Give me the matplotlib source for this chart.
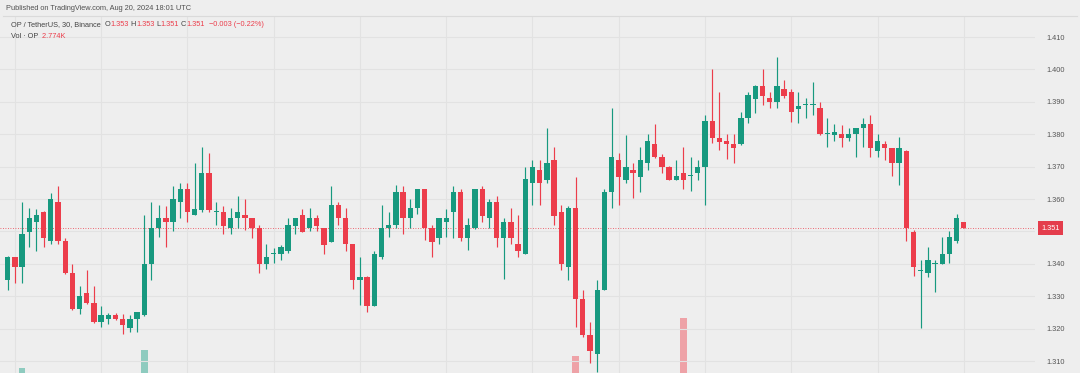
#!/usr/bin/env python3
# OP / TetherUS 30-minute candles (Binance), TradingView-style snapshot
import numpy as np
import matplotlib
matplotlib.use("Agg")
import matplotlib.pyplot as plt
import matplotlib.transforms as mtransforms

plt.rcParams['font.family'] = ['Liberation Sans', 'DejaVu Sans']

# OHLC values, one candle per 30 minutes
opens = [1.3350, 1.3420, 1.3389, 1.3499, 1.3530, 1.3561, 1.3470, 1.3590, 1.3470, 1.3371,
         1.3260, 1.3311, 1.3280, 1.3219, 1.3230, 1.3242, 1.3230, 1.3201, 1.3230, 1.3242,
         1.3398, 1.3510, 1.3540, 1.3528, 1.3590, 1.3630, 1.3551, 1.3566, 1.3679, 1.3559,
         1.3559, 1.3510, 1.3540, 1.3551, 1.3540, 1.3510, 1.3399, 1.3430, 1.3430, 1.3440,
         1.3518, 1.3551, 1.3510, 1.3540, 1.3510, 1.3468, 1.3581, 1.3540, 1.3461, 1.3350,
         1.3360, 1.3270, 1.3420, 1.3510, 1.3520, 1.3621, 1.3540, 1.3571, 1.3631, 1.3510,
         1.3479, 1.3530, 1.3559, 1.3621, 1.3479, 1.3510, 1.3631, 1.3540, 1.3590, 1.3479,
         1.3530, 1.3461, 1.3430, 1.3648, 1.3690, 1.3659, 1.3720, 1.3560, 1.3389, 1.3571,
         1.3291, 1.3180, 1.3122, 1.3319, 1.3621, 1.3720, 1.3659, 1.3690, 1.3669, 1.3710,
         1.3769, 1.3729, 1.3700, 1.3659, 1.3679, 1.3671, 1.3679, 1.3700, 1.3841, 1.3789,
         1.3779, 1.3769, 1.3769, 1.3849, 1.3910, 1.3950, 1.3911, 1.3898, 1.3940, 1.3929,
         1.3878, 1.3890, 1.3890, 1.3880, 1.3800, 1.3798, 1.3800, 1.3789, 1.3800, 1.3818,
         1.3831, 1.3749, 1.3769, 1.3758, 1.3710, 1.3749, 1.3499, 1.3379, 1.3371, 1.3399,
         1.3399, 1.3430, 1.3470, 1.3530]
highs = [1.3425, 1.3422, 1.3590, 1.3571, 1.3568, 1.3563, 1.3619, 1.3640, 1.3479, 1.3399,
         1.3331, 1.3381, 1.3331, 1.3270, 1.3247, 1.3247, 1.3244, 1.3242, 1.3251, 1.3551,
         1.3590, 1.3581, 1.3579, 1.3640, 1.3648, 1.3648, 1.3711, 1.3760, 1.3741, 1.3592,
         1.3578, 1.3571, 1.3609, 1.3600, 1.3541, 1.3520, 1.3461, 1.3448, 1.3458, 1.3540,
         1.3541, 1.3568, 1.3571, 1.3551, 1.3511, 1.3640, 1.3592, 1.3571, 1.3462, 1.3422,
         1.3361, 1.3440, 1.3581, 1.3561, 1.3643, 1.3641, 1.3600, 1.3632, 1.3632, 1.3520,
         1.3541, 1.3568, 1.3641, 1.3631, 1.3540, 1.3632, 1.3641, 1.3600, 1.3609, 1.3540,
         1.3571, 1.3551, 1.3700, 1.3720, 1.3720, 1.3818, 1.3760, 1.3581, 1.3579, 1.3669,
         1.3319, 1.3221, 1.3350, 1.3631, 1.3880, 1.3741, 1.3798, 1.3710, 1.3760, 1.3800,
         1.3831, 1.3739, 1.3701, 1.3720, 1.3760, 1.3729, 1.3720, 1.3859, 1.4000, 1.3929,
         1.3801, 1.3801, 1.3869, 1.3929, 1.3951, 1.4000, 1.3929, 1.4039, 1.3967, 1.3940,
         1.3929, 1.3911, 1.3960, 1.3898, 1.3849, 1.3831, 1.3828, 1.3818, 1.3819, 1.3849,
         1.3859, 1.3800, 1.3779, 1.3759, 1.3790, 1.3751, 1.3504, 1.3412, 1.3453, 1.3412,
         1.3482, 1.3502, 1.3553, 1.3530]
lows = [1.3319, 1.3342, 1.3342, 1.3453, 1.3440, 1.3453, 1.3461, 1.3461, 1.3368, 1.3258,
        1.3245, 1.3276, 1.3217, 1.3204, 1.3214, 1.3227, 1.3183, 1.3190, 1.3190, 1.3240,
        1.3350, 1.3482, 1.3453, 1.3501, 1.3540, 1.3529, 1.3550, 1.3561, 1.3561, 1.3520,
        1.3492, 1.3492, 1.3510, 1.3504, 1.3479, 1.3373, 1.3383, 1.3402, 1.3412, 1.3432,
        1.3492, 1.3498, 1.3502, 1.3502, 1.3430, 1.3467, 1.3520, 1.3440, 1.3321, 1.3273,
        1.3252, 1.3269, 1.3414, 1.3482, 1.3510, 1.3492, 1.3510, 1.3554, 1.3473, 1.3422,
        1.3461, 1.3482, 1.3479, 1.3471, 1.3443, 1.3509, 1.3530, 1.3510, 1.3453, 1.3352,
        1.3461, 1.3422, 1.3429, 1.3581, 1.3581, 1.3650, 1.3520, 1.3381, 1.3350, 1.3204,
        1.3173, 1.3093, 1.3066, 1.3318, 1.3571, 1.3581, 1.3650, 1.3602, 1.3623, 1.3690,
        1.3728, 1.3679, 1.3658, 1.3658, 1.3631, 1.3625, 1.3659, 1.3581, 1.3772, 1.3751,
        1.3723, 1.3712, 1.3768, 1.3834, 1.3865, 1.3890, 1.3880, 1.3880, 1.3911, 1.3839,
        1.3834, 1.3849, 1.3859, 1.3799, 1.3761, 1.3779, 1.3761, 1.3779, 1.3731, 1.3761,
        1.3731, 1.3731, 1.3720, 1.3671, 1.3643, 1.3471, 1.3362, 1.3201, 1.3360, 1.3314,
        1.3398, 1.3403, 1.3463, 1.3510]
closes = [1.3420, 1.3389, 1.3492, 1.3540, 1.3551, 1.3479, 1.3599, 1.3470, 1.3371, 1.3260,
          1.3302, 1.3278, 1.3219, 1.3242, 1.3242, 1.3230, 1.3211, 1.3230, 1.3250, 1.3399,
          1.3510, 1.3540, 1.3528, 1.3599, 1.3630, 1.3559, 1.3569, 1.3679, 1.3566, 1.3560,
          1.3518, 1.3540, 1.3559, 1.3540, 1.3510, 1.3399, 1.3420, 1.3431, 1.3451, 1.3520,
          1.3540, 1.3499, 1.3540, 1.3518, 1.3458, 1.3581, 1.3540, 1.3460, 1.3350, 1.3360,
          1.3270, 1.3430, 1.3510, 1.3520, 1.3621, 1.3540, 1.3571, 1.3631, 1.3510, 1.3468,
          1.3540, 1.3540, 1.3621, 1.3479, 1.3520, 1.3631, 1.3548, 1.3590, 1.3479, 1.3530,
          1.3479, 1.3440, 1.3661, 1.3700, 1.3648, 1.3710, 1.3548, 1.3399, 1.3571, 1.3291,
          1.3180, 1.3131, 1.3319, 1.3621, 1.3729, 1.3669, 1.3700, 1.3679, 1.3720, 1.3779,
          1.3729, 1.3700, 1.3659, 1.3671, 1.3659, 1.3672, 1.3700, 1.3841, 1.3789, 1.3777,
          1.3769, 1.3758, 1.3849, 1.3920, 1.3950, 1.3919, 1.3898, 1.3950, 1.3919, 1.3869,
          1.3888, 1.3891, 1.3891, 1.3800, 1.3801, 1.3808, 1.3789, 1.3800, 1.3818, 1.3831,
          1.3758, 1.3779, 1.3758, 1.3710, 1.3758, 1.3510, 1.3389, 1.3380, 1.3412, 1.3400,
          1.3430, 1.3482, 1.3542, 1.3510]

# only the tallest volume bars reach into the visible part of the chart
vol_index = [2, 19, 79, 94]
vol_k = [310, 418, 382, 610]

price_ticks = [1.31, 1.32, 1.33, 1.34, 1.35, 1.36, 1.37, 1.38, 1.39, 1.40, 1.41]
last_price = 1.351

GREEN = '#17997f'
RED = '#ec3d4b'
BG = '#eeeeee'
GRID = '#e2e2e2'

W, H = 1080, 373
fig = plt.figure(figsize=(W / 100, H / 100), dpi=100)
fig.patch.set_facecolor(BG)

ax = fig.add_axes([0, 0, 1035 / W, 357 / H])
ax.set_facecolor(BG)
for s in ax.spines.values():
    s.set_visible(False)

n = len(opens)
x = np.arange(n)
o = np.array(opens)
h = np.array(highs)
l = np.array(lows)
c = np.array(closes)
up = c >= o
colors = np.where(up, GREEN, RED)

# volume overlay (own scale, baseline sits below the visible area)
vax = ax.twinx()
vax.set_ylim(280, 280 + 357 * 6)
vax.bar(vol_index, vol_k, width=0.9,
        color=['#8ecbbf' if up[i] else '#eea2a7' for i in vol_index], zorder=1)
vax.set_axis_off()

ax.set_zorder(vax.get_zorder() + 1)
ax.patch.set_visible(False)
fig.patches.append(plt.Rectangle((0, 0), 1, 1, transform=fig.transFigure,
                                 color=BG, zorder=-10))

# candles
ax.vlines(x, l, h, colors=colors, linewidth=0.85, zorder=3)
body = np.maximum(np.abs(c - o), 0.00028)
ax.bar(x, body, bottom=np.minimum(o, c), width=0.74, color=colors,
       linewidth=0, zorder=4)

ax.set_xlim(-1.07, 142.9)
ax.set_ylim(1.3063, 1.4165)

# grid; the 1.350 label is hidden behind the last-price tag in the original
ax.set_xticks([])
ax.set_yticks(price_ticks)
ax.set_yticklabels(['' if abs(t - 1.35) < 1e-9 else f'{t:.3f}' for t in price_ticks])
ax.yaxis.tick_right()
ax.tick_params(axis='y', length=0, pad=8, labelsize=5.3, labelcolor='#555555')
for t in price_ticks:
    ax.axhline(t, color=GRID, linewidth=0.8, zorder=0)
for i in range(1, n, 12):
    ax.axvline(i, color=GRID, linewidth=0.8, zorder=0)

# last price line and label
ax.axhline(last_price, color=RED, linewidth=0.6, linestyle=(0, (1, 2)), zorder=2)
trans = mtransforms.blended_transform_factory(ax.transAxes, ax.transData)
ax.text(1 + 6 / 1035, last_price, f'{last_price:.3f}', transform=trans,
        ha='left', va='center', color='white', fontsize=5.3, zorder=10,
        clip_on=False,
        bbox=dict(boxstyle='square,pad=0.45', fc='#e43d4c', ec='none'))

# header
fig.text(6 / W, 1 - 9 / H, 'Published on TradingView.com, Aug 20, 2024 18:01 UTC',
         fontsize=5.3, color='#505050', va='center', ha='left')
fig.add_artist(plt.Line2D([3 / W, 1077 / W], [1 - 16 / H, 1 - 16 / H],
                          color='#dadada', linewidth=0.8))


def chain(pieces, x0, y0):
    prev = fig.text(x0, y0, pieces[0][0], color=pieces[0][1], fontsize=5.3,
                    va='center', ha='left')
    for s, col in pieces[1:]:
        prev = ax.annotate(s, xy=(1, 0.5), xycoords=prev, va='center', ha='left',
                           color=col, fontsize=5.3, annotation_clip=False)


GRAY_TXT = '#444444'
chain([('OP / TetherUS, 30, Binance ', GRAY_TXT), (' O', GRAY_TXT), ('1.353', RED),
       (' H', GRAY_TXT), ('1.353', RED), (' L', GRAY_TXT), ('1.351', RED),
       (' C', GRAY_TXT), ('1.351', RED), ('  \u22120.003 (\u22120.22%)', RED)],
      11 / W, 1 - 25 / H)
chain([('Vol \u00b7 OP ', GRAY_TXT), (' 2.774K', RED)], 11 / W, 1 - 36 / H)

fig.savefig('out.png', dpi=100, facecolor=BG)
